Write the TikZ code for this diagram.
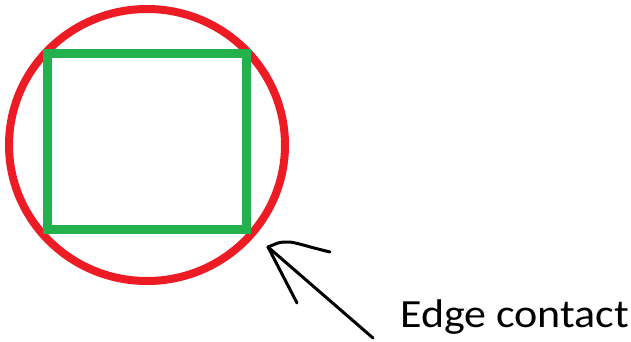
\documentclass[tikz,border=0pt]{standalone}
\usepackage{fontspec}
\usepackage{graphicx}
\usetikzlibrary{shapes.geometric}
\setmainfont{Carlito}
\definecolor{paintred}{HTML}{ED1C24}
\definecolor{paintgreen}{HTML}{22B14C}
\begin{document}
\begin{tikzpicture}[x=1pt,y=-1pt,
  ring/.style={draw=paintred,line width=8pt,ellipse,inner sep=0pt,minimum width=276pt,minimum height=272pt},
  square/.style={draw=paintgreen,line width=9pt,rectangle,inner sep=0pt,minimum width=199.5pt,minimum height=176pt},
  label/.style={font=\fontsize{40}{44}\selectfont,inner sep=0pt,anchor=base west},
  pen/.style={draw=black,line width=3pt,line cap=round,line join=round}]
\useasboundingbox (0,0) rectangle (631,342);
\node[ring] (circ) at (147,145) {};
\node[square] (rect) at (146.75,141.5) {};
\node[label] (txt) at (400,327) {\scalebox{1.1}[1]{Edge contact}};
\coordinate (tip) at (268,247);
\coordinate (tail) at (373,338);
\coordinate (barbA) at (330,252);
\coordinate (barbB) at (297,303);
\draw[pen] (tail) -- (tip);
\draw[pen] (barbA) .. controls (305,246) and (295,242) .. (288,242) .. controls (280,242) .. (tip) -- (barbB);
\end{tikzpicture}
\end{document}
